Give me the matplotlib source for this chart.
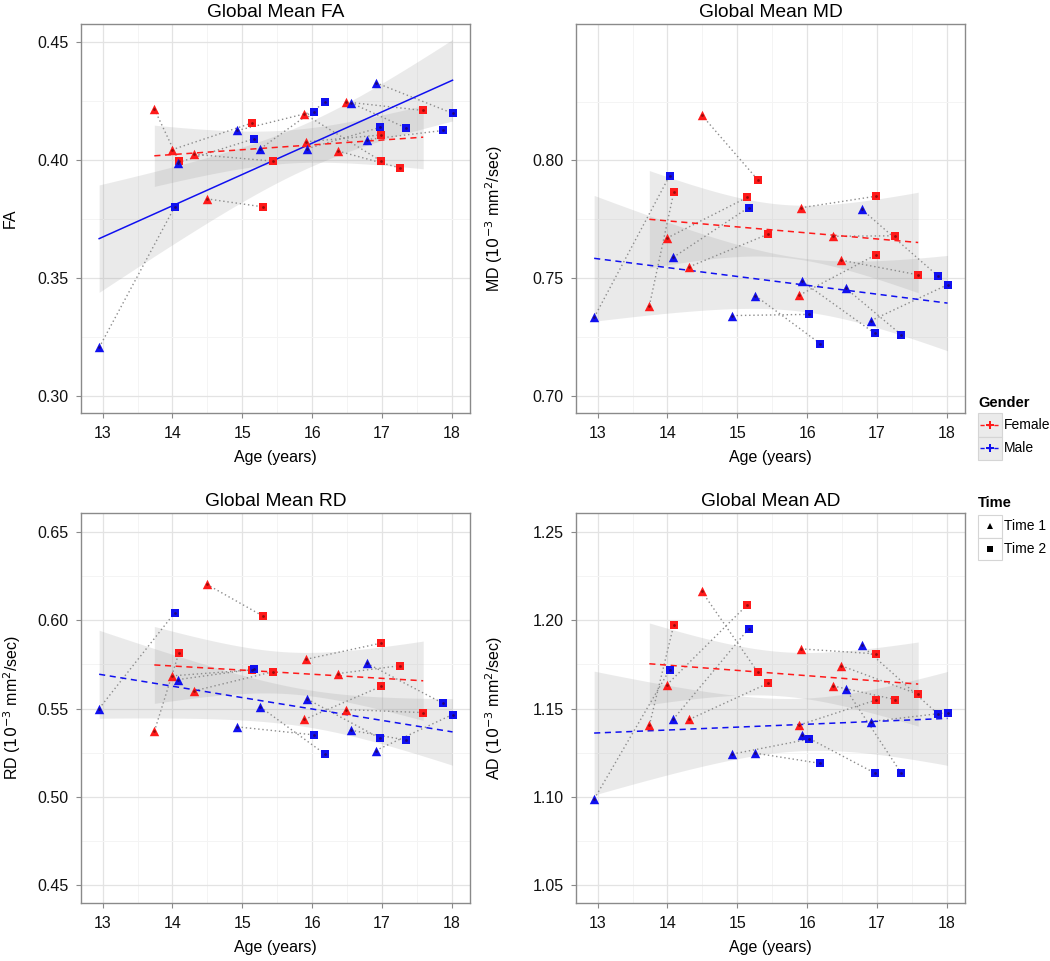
import numpy as np
import matplotlib
matplotlib.use("Agg")
import matplotlib.pyplot as plt
from matplotlib.patches import Rectangle
from matplotlib.lines import Line2D

plt.rcParams['font.family'] = ['Liberation Sans', 'DejaVu Sans']

# 16 subjects, each scanned twice (Time 1, Time 2)
gender = ['Male', 'Female', 'Female', 'Male', 'Female', 'Female', 'Male', 'Male',
          'Female', 'Female', 'Male', 'Female', 'Female', 'Male', 'Male', 'Male']
age_t1 = [12.95, 13.74, 13.99, 14.08, 14.31, 14.49, 14.93, 15.26,
          15.91, 15.89, 15.93, 16.37, 16.49, 16.55, 16.78, 16.91]
age_t2 = [14.03, 14.09, 15.14, 15.16, 15.44, 15.29, 16.02, 16.19,
          16.98, 16.99, 16.97, 17.26, 17.59, 17.35, 17.87, 18.01]

fa_t1 = [0.3205, 0.4217, 0.4044, 0.3990, 0.4025, 0.3836, 0.4126, 0.4049,
         0.4078, 0.4196, 0.4049, 0.4039, 0.4247, 0.4244, 0.4087, 0.4329]
fa_t2 = [0.3801, 0.3997, 0.4158, 0.4090, 0.3996, 0.3802, 0.4206, 0.4247,
         0.4107, 0.3996, 0.4139, 0.3967, 0.4211, 0.4136, 0.4126, 0.4199]

md_t1 = [0.7333, 0.7382, 0.7670, 0.7588, 0.7548, 0.8193, 0.7341, 0.7425,
         0.7799, 0.7428, 0.7486, 0.7678, 0.7576, 0.7458, 0.7793, 0.7319]
md_t2 = [0.7935, 0.7865, 0.7843, 0.7800, 0.7687, 0.7919, 0.7346, 0.7221,
         0.7848, 0.7600, 0.7265, 0.7680, 0.7514, 0.7259, 0.7510, 0.7472]

rd_t1 = [0.5500, 0.5370, 0.5685, 0.5664, 0.5600, 0.6204, 0.5396, 0.5508,
         0.5779, 0.5438, 0.5553, 0.5698, 0.5494, 0.5377, 0.5757, 0.5262]
rd_t2 = [0.6042, 0.5813, 0.5719, 0.5723, 0.5709, 0.6025, 0.5351, 0.5240,
         0.5870, 0.5626, 0.5332, 0.5743, 0.5477, 0.5321, 0.5530, 0.5466]

ad_t1 = [1.0987, 1.1404, 1.1634, 1.1438, 1.1438, 1.2164, 1.1242, 1.1247,
         1.1838, 1.1407, 1.1351, 1.1628, 1.1742, 1.1613, 1.1858, 1.1426]
ad_t2 = [1.1719, 1.1974, 1.2087, 1.1951, 1.1643, 1.1708, 1.1326, 1.1189,
         1.1810, 1.1549, 1.1134, 1.1551, 1.1581, 1.1132, 1.1470, 1.1477]

colors = {'Female': '#FF1A1A', 'Male': '#1010F0'}
T_CRIT = 2.1448  # t(0.975, df=14) -> 16 points per gender

W, H = 1050, 961
fig = plt.figure(figsize=(W / 100, H / 100), dpi=100)


def px_axes(left, top, right, bottom):
    return fig.add_axes([left / W, 1 - bottom / H, (right - left) / W, (bottom - top) / H])


def panel(ax, y1, y2, title, ylabel, ylim, yticks, styles, ylab_x):
    a1, a2 = np.array(age_t1), np.array(age_t2)
    v1, v2 = np.array(y1), np.array(y2)
    g = np.array(gender)

    # regression with 95% band per gender
    for sex in ['Female', 'Male']:
        m = g == sex
        x = np.concatenate([a1[m], a2[m]])
        y = np.concatenate([v1[m], v2[m]])
        b, a = np.polyfit(x, y, 1)
        n = len(x)
        resid = y - (a + b * x)
        s = np.sqrt(np.sum(resid ** 2) / (n - 2))
        xg = np.linspace(x.min(), x.max(), 100)
        yg = a + b * xg
        se = s * np.sqrt(1 / n + (xg - x.mean()) ** 2 / np.sum((x - x.mean()) ** 2))
        ax.fill_between(xg, yg - T_CRIT * se, yg + T_CRIT * se, color='#999999',
                        alpha=0.2, lw=0, zorder=1)
        ax.plot(xg, yg, color=colors[sex], lw=1.1, zorder=4,
                **({'dashes': (4, 3)} if styles[sex] == 'dashed' else {}))

    # subject trajectories
    for i in range(len(gender)):
        ax.plot([a1[i], a2[i]], [v1[i], v2[i]], color='#8C8C8C', lw=1.0,
                ls=(0, (1, 2)), zorder=2)

    for i in range(len(gender)):
        c = colors[gender[i]]
        ax.scatter(a1[i], v1[i], marker='^', s=46, color=c, lw=0, zorder=5)
        ax.scatter(a2[i], v2[i], marker='s', s=38, color=c, lw=0, zorder=5)
    ax.scatter(np.concatenate([a1, a2]), np.concatenate([v1, v2]), marker='o', s=4,
               color='#300000', alpha=0.5, lw=0, zorder=6)

    ax.set_xticks([13, 14, 15, 16, 17, 18])
    ax.set_xticks(np.arange(12.5, 18.6, 0.5), minor=True)
    ax.set_yticks(yticks)
    step = yticks[1] - yticks[0]
    ax.set_yticks(np.arange(yticks[0] - step / 2, ylim[1], step), minor=True)
    ax.set_yticklabels([f"{t:.2f}" for t in yticks])
    ax.set_xlim(12.69, 18.26)
    ax.set_ylim(*ylim)
    ax.grid(which='major', color='#E3E3E3', lw=0.9, zorder=0)
    ax.grid(which='minor', color='#F4F4F4', lw=0.7, zorder=0)
    ax.set_axisbelow(True)
    for sp in ax.spines.values():
        sp.set_color('#8A8A8A')
        sp.set_linewidth(1.0)
    ax.tick_params(which='major', direction='out', length=3.5, color='#8A8A8A',
                   labelsize=11.5, labelcolor='#111111', pad=5.5)
    ax.tick_params(which='minor', length=0)
    ax.set_title(title, fontsize=13.8, pad=5)
    ax.set_xlabel('Age (years)', fontsize=11.5, labelpad=7)
    ax.set_ylabel(ylabel, fontsize=11.5)
    ax.yaxis.set_label_coords(ylab_x, 0.5)


ax_fa = px_axes(81, 24, 470, 413)
ax_md = px_axes(576, 24, 965, 413)
ax_rd = px_axes(81, 513, 470, 903)
ax_ad = px_axes(576, 513, 965, 903)

panel(ax_fa, fa_t1, fa_t2, 'Global Mean FA', 'FA', (0.2927, 0.4578),
      [0.30, 0.35, 0.40, 0.45], {'Female': 'dashed', 'Male': 'solid'}, -0.162)
panel(ax_md, md_t1, md_t2, 'Global Mean MD', r'MD ($10^{-3}$ mm$^{2}$/sec)', (0.6927, 0.858),
      [0.70, 0.75, 0.80], {'Female': 'dashed', 'Male': 'dashed'}, -0.183)
panel(ax_rd, rd_t1, rd_t2, 'Global Mean RD', r'RD ($10^{-3}$ mm$^{2}$/sec)', (0.4398, 0.6608),
      [0.45, 0.50, 0.55, 0.60, 0.65], {'Female': 'dashed', 'Male': 'dashed'}, -0.150)
panel(ax_ad, ad_t1, ad_t2, 'Global Mean AD', r'AD ($10^{-3}$ mm$^{2}$/sec)', (1.0398, 1.2608),
      [1.05, 1.10, 1.15, 1.20, 1.25], {'Female': 'dashed', 'Male': 'dashed'}, -0.183)

# legends drawn in pixel space
lg = fig.add_axes([0, 0, 1, 1], zorder=10)
lg.set_xlim(0, W)
lg.set_ylim(H, 0)
lg.axis('off')
lg.patch.set_alpha(0)

lg.text(978, 403, 'Gender', fontsize=10.5, fontweight='bold', va='center')
for k, sex in enumerate(['Female', 'Male']):
    y0 = 413 + k * 23.5
    lg.add_patch(Rectangle((978, y0), 24, 23.5, facecolor='#EBEBEB', edgecolor='#D5D5D5', lw=0.8))
    lg.add_line(Line2D([980, 1000], [y0 + 11.75] * 2, color=colors[sex], lw=1.0, dashes=(3, 2)))
    lg.plot([990], [y0 + 11.75], marker='P', ms=6, color=colors[sex], mew=0)
    lg.text(1004, y0 + 12, sex, fontsize=10, va='center')

lg.text(978, 503, 'Time', fontsize=10.5, fontweight='bold', va='center')
for k, (lab, mk) in enumerate([('Time 1', '^'), ('Time 2', 's')]):
    y0 = 515 + k * 22.5
    lg.add_patch(Rectangle((978, y0), 24, 22.5, facecolor='white', edgecolor='#D5D5D5', lw=0.8))
    lg.plot([990], [y0 + 11.25], marker=mk, ms=5, color='black', mew=0)
    lg.text(1004, y0 + 11.5, lab, fontsize=10, va='center')

fig.savefig('out.png', dpi=100)
